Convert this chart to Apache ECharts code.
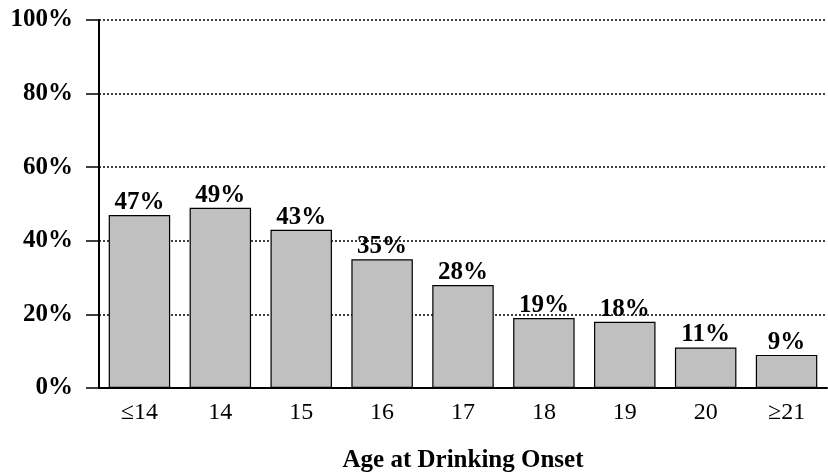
<!DOCTYPE html>
<html><head><meta charset="utf-8">
<script src="https://cdn.jsdelivr.net/npm/echarts@6/dist/echarts.min.js"></script>
<style>html,body{margin:0;padding:0;background:#fff}#c{width:828px;height:475px}</style>
</head><body><div id="c"></div>
<script>
const categories = ['≤14', '14', '15', '16', '17', '18', '19', '20', '≥21'];
const values = [47, 49, 43, 35, 28, 19, 18, 11, 9];
const yTicks = [0, 20, 40, 60, 80, 100];
const xName = 'Age at Drinking Onset';

const chart = echarts.init(document.getElementById('c'));
const F = '"Liberation Serif", "Times New Roman", serif';
chart.setOption({
  animation: false,
  grid: {left: 99, right: 1, top: 20, bottom: 87, containLabel: false, outerBoundsMode: 'none'},
  xAxis: {
    type: 'category', data: categories,
    name: xName, nameLocation: 'middle', nameGap: 60,
    nameTextStyle: {fontFamily: F, fontWeight: 'bold', fontSize: 25, color: '#000'},
    axisLine: {lineStyle: {color: '#000', width: 2}},
    axisTick: {show: false},
    axisLabel: {fontFamily: F, fontSize: 24, color: '#000', margin: 13}
  },
  yAxis: {
    type: 'value', min: 0, max: 100, interval: 20,
    axisLine: {show: true, lineStyle: {color: '#000', width: 2}},
    axisTick: {show: true, inside: false, length: 13, lineStyle: {color: '#000', width: 1.5}},
    axisLabel: {fontFamily: F, fontWeight: 'bold', fontSize: 25, color: '#000', margin: 26,
      formatter: v => yTicks.includes(v) ? v + '%' : ''},
    splitLine: {show: true, lineStyle: {color: '#000', type: [2, 2], width: 1.5}}
  },
  series: [{
    type: 'bar', data: values, barWidth: '76%',
    itemStyle: {color: '#c0c0c0', borderColor: '#000', borderWidth: 1.2},
    label: {show: true, position: 'top', distance: 0, formatter: '{c}%',
      fontFamily: F, fontWeight: 'bold', fontSize: 25, color: '#000'}
  }]
});
</script></body></html>
